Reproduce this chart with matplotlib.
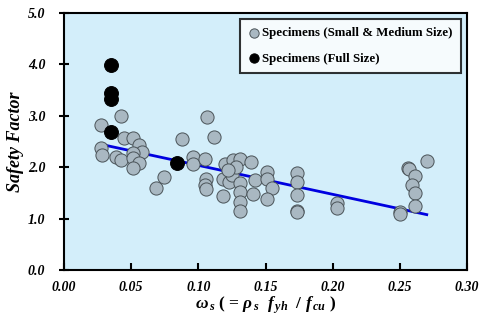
import matplotlib
matplotlib.use("Agg")
import matplotlib.pyplot as plt
import numpy as np

# Small & medium size specimens
small_x = [0.0274, 0.0274, 0.0281, 0.0425, 0.0443, 0.0517, 0.0555, 0.0580, 0.0390, 0.0425,
           0.0517, 0.0517, 0.0555, 0.0517, 0.0684, 0.0746, 0.0878, 0.0958, 0.0958, 0.1050,
           0.1065, 0.1114, 0.1060, 0.1050, 0.1060, 0.1180, 0.1200, 0.1260, 0.1310, 0.1390,
           0.1180, 0.1230, 0.1250, 0.1280, 0.1220, 0.1310, 0.1310, 0.1310, 0.1310, 0.1425,
           0.1410, 0.1510, 0.1510, 0.1550, 0.1510, 0.1736, 0.1736, 0.1736, 0.1736, 0.1736,
           0.2030, 0.2030, 0.2500, 0.2500, 0.2560, 0.2570, 0.2610, 0.2590, 0.2610, 0.2610,
           0.2700]
small_y = [2.82, 2.37, 2.24, 3.00, 2.56, 2.56, 2.43, 2.30, 2.20, 2.14,
           2.27, 2.18, 2.08, 1.98, 1.60, 1.81, 2.54, 2.19, 2.07, 2.15,
           2.97, 2.59, 1.78, 1.65, 1.57, 1.43, 2.07, 2.14, 2.16, 2.10,
           1.78, 1.72, 1.85, 2.01, 1.95, 1.69, 1.51, 1.33, 1.15, 1.75,
           1.47, 1.90, 1.78, 1.59, 1.38, 1.88, 1.72, 1.46, 1.15, 1.12,
           1.30, 1.20, 1.13, 1.08, 1.98, 1.96, 1.83, 1.65, 1.49, 1.25,
           2.12]

# Full size specimens
full_x = [0.035, 0.035, 0.035, 0.035, 0.084]
full_y = [3.99, 3.45, 3.33, 2.69, 2.09]

# Trend line
trend_intercept = 2.60
trend_slope = -5.64
trend_range = [0.0306, 0.270]

xticks = [0.00, 0.05, 0.10, 0.15, 0.20, 0.25, 0.30]
yticks = [0.0, 1.0, 2.0, 3.0, 4.0, 5.0]

serif = ["Liberation Serif", "DejaVu Serif"]
plt.rcParams["mathtext.fontset"] = "custom"
plt.rcParams["mathtext.rm"] = "Liberation Serif:bold"
plt.rcParams["mathtext.it"] = "Liberation Serif:italic:bold"
plt.rcParams["mathtext.bf"] = "Liberation Serif:italic:bold"

fig = plt.figure(figsize=(4.82, 3.21), dpi=100)
ax = fig.add_axes([0.1328, 0.1589, 0.969 - 0.1328, 0.9595 - 0.1589])
ax.set_facecolor("#D3EEFA")

tx = np.array(trend_range)
ax.plot(tx, trend_intercept + trend_slope * tx, color="#0000E0", lw=2, zorder=2)

ax.scatter(small_x, small_y, s=90, c="#A9B8C2", edgecolors="#4A5358", linewidths=0.7,
           zorder=3, label="Specimens (Small & Medium Size)")
ax.scatter(full_x, full_y, s=100, c="black", edgecolors="black", linewidths=0.7,
           zorder=4, label="Specimens (Full Size)")

ax.set_xlim(0, 0.30)
ax.set_ylim(0, 5.0)
ax.set_xticks(xticks)
ax.set_yticks(yticks)
ax.set_xticklabels([f"{v:.2f}" for v in xticks], fontfamily=serif, fontweight="bold",
                   fontstyle="italic", fontsize=10)
ax.set_yticklabels([f"{v:.1f}" for v in yticks], fontfamily=serif, fontweight="bold",
                   fontstyle="italic", fontsize=10)
ax.tick_params(axis="x", direction="in", length=5, width=1.5, pad=8)
ax.tick_params(axis="y", direction="inout", length=7, width=1.5, pad=10)
for sp in ax.spines.values():
    sp.set_linewidth(1.5)

ax.set_ylabel("Safety Factor", fontfamily=serif, fontweight="bold", fontstyle="italic",
              fontsize=13, labelpad=3)
ax.set_xlabel(r"$\omega_{\,s}$ ( = $\rho_{\,s}$  $f_{\,yh}$  / $f_{\,cu}$ )", fontfamily=serif,
              fontweight="bold", fontsize=12.5, labelpad=0)

leg = ax.legend(loc="upper right", frameon=True, fancybox=False, handletextpad=0.15,
                borderpad=0.6, labelspacing=1.05, handlelength=1.0, borderaxespad=0.5,
                prop={"family": serif, "weight": "bold", "size": 9.3})
leg.get_frame().set_edgecolor("black")
leg.get_frame().set_linewidth(1.5)
for h in leg.legend_handles:
    h.set_sizes([45])

fig.savefig("out.png", dpi=100)
